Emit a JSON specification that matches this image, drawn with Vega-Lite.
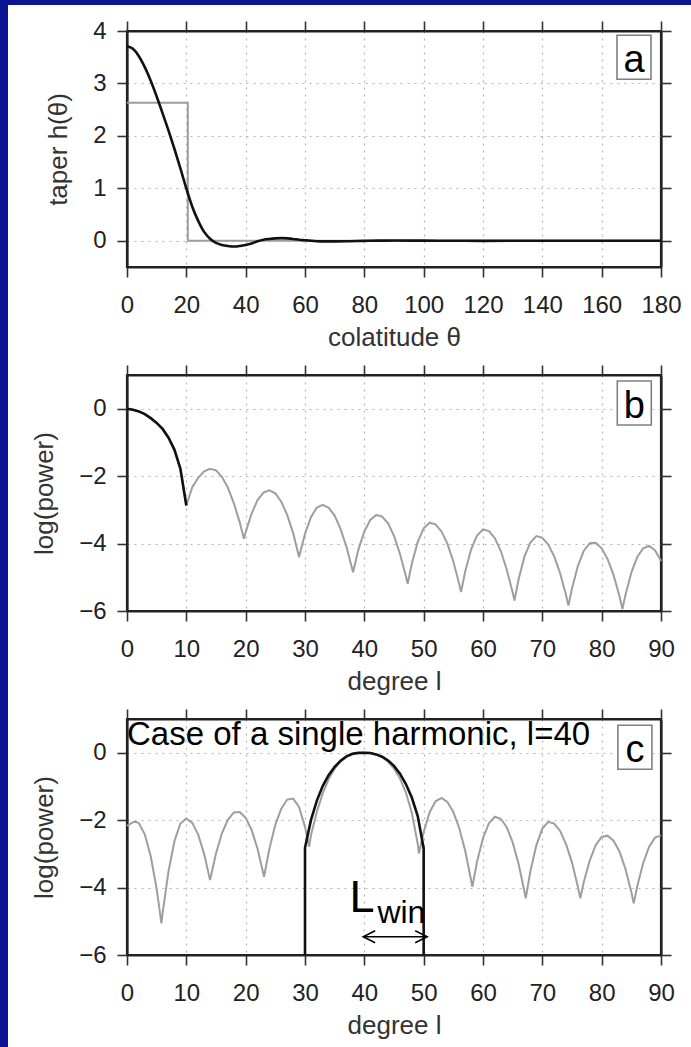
{
  "$schema": "https://vega.github.io/schema/vega-lite/v6.json",
  "padding": 0,
  "background": "white",
  "config": {
    "font": "Liberation Sans",
    "view": {"stroke": "#222222", "strokeWidth": 2.2},
    "axis": {
      "domain": true,
      "domainColor": "#222222",
      "domainWidth": 2.2,
      "tickColor": "#333333",
      "tickWidth": 1.6,
      "tickSize": 10,
      "labelFont": "Liberation Sans",
      "labelFontSize": 24,
      "labelColor": "#222222",
      "labelFlush": false,
      "labelOverlap": false,
      "titleFont": "Liberation Sans",
      "titleFontSize": 26,
      "titleFontWeight": "normal",
      "titleColor": "#333333",
      "gridColor": "#b5b5b5",
      "gridDash": [2, 5],
      "gridWidth": 1.2
    },
    "axisX": {"labelPadding": 16, "titlePadding": 7},
    "axisY": {"labelPadding": 11, "titlePadding": 21}
  },
  "datasets": {
    "taper": [
      {"theta": 0, "h": 3.71}, {"theta": 2, "h": 3.66}, {"theta": 4, "h": 3.52}, {"theta": 6, "h": 3.31},
      {"theta": 8, "h": 3.05}, {"theta": 10, "h": 2.75}, {"theta": 12, "h": 2.43}, {"theta": 14, "h": 2.1},
      {"theta": 16, "h": 1.75}, {"theta": 18, "h": 1.38}, {"theta": 20, "h": 1.0}, {"theta": 22, "h": 0.65},
      {"theta": 24, "h": 0.38}, {"theta": 26, "h": 0.17}, {"theta": 28, "h": 0.04}, {"theta": 30, "h": -0.04},
      {"theta": 32, "h": -0.08}, {"theta": 34, "h": -0.1}, {"theta": 36, "h": -0.11}, {"theta": 38, "h": -0.1},
      {"theta": 40, "h": -0.08}, {"theta": 42, "h": -0.05}, {"theta": 44, "h": -0.01}, {"theta": 46, "h": 0.02},
      {"theta": 48, "h": 0.035}, {"theta": 50, "h": 0.045}, {"theta": 52, "h": 0.05}, {"theta": 54, "h": 0.045},
      {"theta": 56, "h": 0.035}, {"theta": 58, "h": 0.02}, {"theta": 60, "h": 0.01}, {"theta": 62, "h": 0.0},
      {"theta": 64, "h": -0.008}, {"theta": 66, "h": -0.012}, {"theta": 70, "h": -0.012}, {"theta": 75, "h": -0.008},
      {"theta": 80, "h": -0.002}, {"theta": 85, "h": 0.003}, {"theta": 90, "h": 0.004}, {"theta": 100, "h": 0.002},
      {"theta": 110, "h": 0.0}, {"theta": 120, "h": -0.001}, {"theta": 140, "h": 0.0}, {"theta": 160, "h": 0.0},
      {"theta": 180, "h": 0.0}
    ],
    "boxcar": [
      {"i": 1, "theta": 0, "h": 2.63}, {"i": 2, "theta": 20.5, "h": 2.63},
      {"i": 3, "theta": 20.5, "h": 0}, {"i": 4, "theta": 180, "h": 0}
    ],
    "specB": [
      {"l": 0, "logp": 0}, {"l": 1, "logp": -0.03}, {"l": 2, "logp": -0.08}, {"l": 3, "logp": -0.16},
      {"l": 4, "logp": -0.28}, {"l": 5, "logp": -0.42}, {"l": 6, "logp": -0.6}, {"l": 7, "logp": -0.86},
      {"l": 8, "logp": -1.22}, {"l": 9, "logp": -1.78}, {"l": 10, "logp": -2.87}, {"l": 11, "logp": -2.33},
      {"l": 12, "logp": -2.05}, {"l": 13, "logp": -1.86}, {"l": 14, "logp": -1.78}, {"l": 15, "logp": -1.83},
      {"l": 16, "logp": -2.02}, {"l": 17, "logp": -2.34}, {"l": 18, "logp": -2.8}, {"l": 19, "logp": -3.37},
      {"l": 19.7, "logp": -3.86}, {"l": 20, "logp": -3.66}, {"l": 21, "logp": -3.11}, {"l": 22, "logp": -2.71},
      {"l": 23, "logp": -2.49}, {"l": 24, "logp": -2.42}, {"l": 25, "logp": -2.51}, {"l": 26, "logp": -2.76},
      {"l": 27, "logp": -3.15}, {"l": 28, "logp": -3.69}, {"l": 29, "logp": -4.4}, {"l": 30, "logp": -3.71},
      {"l": 31, "logp": -3.22}, {"l": 32, "logp": -2.93}, {"l": 33, "logp": -2.85}, {"l": 34, "logp": -2.94},
      {"l": 35, "logp": -3.17}, {"l": 36, "logp": -3.57}, {"l": 37, "logp": -4.1}, {"l": 38.1, "logp": -4.85},
      {"l": 39, "logp": -4.18}, {"l": 40, "logp": -3.64}, {"l": 41, "logp": -3.3}, {"l": 42, "logp": -3.15},
      {"l": 43, "logp": -3.2}, {"l": 44, "logp": -3.4}, {"l": 45, "logp": -3.77}, {"l": 46, "logp": -4.3},
      {"l": 47, "logp": -4.96}, {"l": 47.3, "logp": -5.19}, {"l": 48, "logp": -4.6}, {"l": 49, "logp": -3.95},
      {"l": 50, "logp": -3.55}, {"l": 51, "logp": -3.38}, {"l": 52, "logp": -3.43}, {"l": 53, "logp": -3.64},
      {"l": 54, "logp": -4.0}, {"l": 55, "logp": -4.53}, {"l": 56, "logp": -5.21}, {"l": 56.3, "logp": -5.44},
      {"l": 57, "logp": -4.83}, {"l": 58, "logp": -4.17}, {"l": 59, "logp": -3.76}, {"l": 60, "logp": -3.58},
      {"l": 61, "logp": -3.63}, {"l": 62, "logp": -3.84}, {"l": 63, "logp": -4.22}, {"l": 64, "logp": -4.77},
      {"l": 65, "logp": -5.45}, {"l": 65.3, "logp": -5.69}, {"l": 66, "logp": -5.06}, {"l": 67, "logp": -4.38},
      {"l": 68, "logp": -3.96}, {"l": 69, "logp": -3.78}, {"l": 70, "logp": -3.83}, {"l": 71, "logp": -4.03},
      {"l": 72, "logp": -4.38}, {"l": 73, "logp": -4.88}, {"l": 74, "logp": -5.53}, {"l": 74.4, "logp": -5.84},
      {"l": 75, "logp": -5.33}, {"l": 76, "logp": -4.66}, {"l": 77, "logp": -4.21}, {"l": 78, "logp": -3.99},
      {"l": 79, "logp": -3.98}, {"l": 80, "logp": -4.14}, {"l": 81, "logp": -4.46}, {"l": 82, "logp": -4.93},
      {"l": 83, "logp": -5.56}, {"l": 83.5, "logp": -5.94}, {"l": 84, "logp": -5.53}, {"l": 85, "logp": -4.86},
      {"l": 86, "logp": -4.4}, {"l": 87, "logp": -4.14}, {"l": 88, "logp": -4.07}, {"l": 89, "logp": -4.2},
      {"l": 90, "logp": -4.52}
    ],
    "specBmain": [
      {"l": 0, "logp": 0}, {"l": 1, "logp": -0.03}, {"l": 2, "logp": -0.08}, {"l": 3, "logp": -0.16},
      {"l": 4, "logp": -0.28}, {"l": 5, "logp": -0.42}, {"l": 6, "logp": -0.6}, {"l": 7, "logp": -0.86},
      {"l": 8, "logp": -1.22}, {"l": 9, "logp": -1.78}, {"l": 10, "logp": -2.87}
    ],
    "specC": [
      {"l": 0, "logp": -2.17}, {"l": 1, "logp": -2.06}, {"l": 1.5, "logp": -2.05}, {"l": 2, "logp": -2.09},
      {"l": 3, "logp": -2.42}, {"l": 4, "logp": -3.07}, {"l": 5, "logp": -4.04}, {"l": 5.8, "logp": -5.06},
      {"l": 6, "logp": -4.76}, {"l": 7, "logp": -3.51}, {"l": 8, "logp": -2.62}, {"l": 9, "logp": -2.1},
      {"l": 10, "logp": -1.95}, {"l": 11, "logp": -2.08}, {"l": 12, "logp": -2.43}, {"l": 13, "logp": -3.0},
      {"l": 14, "logp": -3.78}, {"l": 15, "logp": -2.99}, {"l": 16, "logp": -2.39}, {"l": 17, "logp": -1.99},
      {"l": 18, "logp": -1.77}, {"l": 19, "logp": -1.76}, {"l": 20, "logp": -1.93}, {"l": 21, "logp": -2.29},
      {"l": 22, "logp": -2.85}, {"l": 23.1, "logp": -3.68}, {"l": 24, "logp": -2.85}, {"l": 25, "logp": -2.14},
      {"l": 26, "logp": -1.66}, {"l": 27, "logp": -1.39}, {"l": 28, "logp": -1.36}, {"l": 29, "logp": -1.61},
      {"l": 30, "logp": -2.2}, {"l": 30.7, "logp": -2.79}, {"l": 31, "logp": -2.45}, {"l": 32, "logp": -1.75},
      {"l": 33, "logp": -1.2}, {"l": 34, "logp": -0.78}, {"l": 35, "logp": -0.47}, {"l": 36, "logp": -0.26},
      {"l": 37, "logp": -0.12}, {"l": 38, "logp": -0.04}, {"l": 39, "logp": -0.01}, {"l": 40, "logp": 0},
      {"l": 41, "logp": -0.01}, {"l": 42, "logp": -0.05}, {"l": 43, "logp": -0.13}, {"l": 44, "logp": -0.27},
      {"l": 45, "logp": -0.47}, {"l": 46, "logp": -0.76}, {"l": 47, "logp": -1.18}, {"l": 48, "logp": -1.78},
      {"l": 49, "logp": -2.7}, {"l": 49.2, "logp": -2.99}, {"l": 50, "logp": -2.35}, {"l": 51, "logp": -1.77},
      {"l": 52, "logp": -1.44}, {"l": 53, "logp": -1.34}, {"l": 54, "logp": -1.46}, {"l": 55, "logp": -1.76},
      {"l": 56, "logp": -2.24}, {"l": 57, "logp": -2.91}, {"l": 58, "logp": -3.79}, {"l": 58.2, "logp": -3.98},
      {"l": 59, "logp": -3.23}, {"l": 60, "logp": -2.53}, {"l": 61, "logp": -2.09}, {"l": 62, "logp": -1.9},
      {"l": 63, "logp": -1.96}, {"l": 64, "logp": -2.21}, {"l": 65, "logp": -2.66}, {"l": 66, "logp": -3.3},
      {"l": 67, "logp": -4.13}, {"l": 67.2, "logp": -4.32}, {"l": 68, "logp": -3.5}, {"l": 69, "logp": -2.74},
      {"l": 70, "logp": -2.25}, {"l": 71, "logp": -2.05}, {"l": 72, "logp": -2.1}, {"l": 73, "logp": -2.32},
      {"l": 74, "logp": -2.71}, {"l": 75, "logp": -3.26}, {"l": 76, "logp": -3.98}, {"l": 76.4, "logp": -4.32},
      {"l": 77, "logp": -3.83}, {"l": 78, "logp": -3.19}, {"l": 79, "logp": -2.74}, {"l": 80, "logp": -2.5},
      {"l": 81, "logp": -2.46}, {"l": 82, "logp": -2.61}, {"l": 83, "logp": -2.93}, {"l": 84, "logp": -3.44},
      {"l": 85, "logp": -4.13}, {"l": 85.4, "logp": -4.47}, {"l": 86, "logp": -3.96}, {"l": 87, "logp": -3.27},
      {"l": 88, "logp": -2.79}, {"l": 89, "logp": -2.52}, {"l": 90, "logp": -2.45}
    ],
    "specCblack": [
      {"i": 1, "l": 30, "logp": -6}, {"i": 2, "l": 30, "logp": -2.82}, {"i": 3, "l": 31, "logp": -2.0},
      {"i": 4, "l": 32, "logp": -1.42}, {"i": 5, "l": 33, "logp": -0.98}, {"i": 6, "l": 34, "logp": -0.66},
      {"i": 7, "l": 35, "logp": -0.42}, {"i": 8, "l": 36, "logp": -0.24}, {"i": 9, "l": 37, "logp": -0.11},
      {"i": 10, "l": 38, "logp": -0.03}, {"i": 11, "l": 39, "logp": -0.005}, {"i": 12, "l": 40, "logp": 0},
      {"i": 13, "l": 41, "logp": -0.01}, {"i": 14, "l": 42, "logp": -0.05}, {"i": 15, "l": 43, "logp": -0.12},
      {"i": 16, "l": 44, "logp": -0.23}, {"i": 17, "l": 45, "logp": -0.39}, {"i": 18, "l": 46, "logp": -0.62},
      {"i": 19, "l": 47, "logp": -0.93}, {"i": 20, "l": 48, "logp": -1.33}, {"i": 21, "l": 49, "logp": -1.88},
      {"i": 22, "l": 50, "logp": -2.84}, {"i": 23, "l": 50, "logp": -6}
    ]
  },
  "spacing": 0,
  "vconcat": [
    {
      "width": 691, "height": 5,
      "view": {"fill": "#0b1592", "stroke": null},
      "data": {"values": []},
      "mark": "rect",
      "encoding": {}
    },
    {
      "spacing": 22,
      "hconcat": [
        {
          "width": 8, "height": 1042,
          "view": {"fill": "#0b1592", "stroke": null},
          "data": {"values": []},
          "mark": "rect",
          "encoding": {}
        },
        {
          "spacing": 0,
          "vconcat": [
            {
              "width": 1, "height": 12,
              "view": {"stroke": null},
              "data": {"values": []},
              "mark": "rect",
              "encoding": {}
            },
            {
              "spacing": 108,
              "bounds": "flush",
              "vconcat": [
                {
                  "width": 534, "height": 236,
                  "resolve": {"axis": {"x": "independent", "y": "independent"}},
                  "layer": [
                    {
                      "data": {"name": "boxcar"},
                      "mark": {"type": "line", "color": "#9e9e9e", "strokeWidth": 2},
                      "encoding": {
                        "x": {"field": "theta", "type": "quantitative", "scale": {"domain": [0, 180], "nice": false},
                              "axis": {"orient": "bottom", "values": [0, 20, 40, 60, 80, 100, 120, 140, 160, 180], "title": "colatitude θ", "grid": true}},
                        "y": {"field": "h", "type": "quantitative", "scale": {"domain": [-0.5, 4], "nice": false},
                              "axis": {"orient": "left", "values": [0, 1, 2, 3, 4], "title": "taper h(θ)", "grid": true}},
                        "order": {"field": "i"}
                      }
                    },
                    {
                      "data": {"name": "taper"},
                      "mark": {"type": "line", "color": "#111111", "strokeWidth": 2.6, "interpolate": "monotone"},
                      "encoding": {
                        "x": {"field": "theta", "type": "quantitative", "scale": {"domain": [0, 180], "nice": false},
                              "axis": {"orient": "top", "values": [0, 20, 40, 60, 80, 100, 120, 140, 160, 180], "labels": false, "title": null, "grid": false}},
                        "y": {"field": "h", "type": "quantitative", "scale": {"domain": [-0.5, 4], "nice": false},
                              "axis": {"orient": "right", "values": [0, 1, 2, 3, 4], "labels": false, "title": null, "grid": false}}
                      }
                    },
                    {
                      "data": {"values": [{"theta": 170.9, "h": 3.5, "label": "a"}]},
                      "mark": {"type": "point", "shape": "M-0.773,-1H0.773V1H-0.773Z", "size": 1936, "filled": true, "fill": "white", "stroke": "#808080", "strokeWidth": 1.6, "opacity": 1},
                      "encoding": {
                        "x": {"field": "theta", "type": "quantitative", "scale": {"domain": [0, 180], "nice": false}, "axis": null},
                        "y": {"field": "h", "type": "quantitative", "scale": {"domain": [-0.5, 4], "nice": false}, "axis": null}
                      }
                    },
                    {
                      "data": {"values": [{"theta": 170.9, "h": 3.5, "label": "a"}]},
                      "mark": {"type": "text", "fontSize": 38, "baseline": "alphabetic", "dy": 15, "align": "center", "color": "black", "font": "Liberation Sans"},
                      "encoding": {
                        "x": {"field": "theta", "type": "quantitative", "scale": {"domain": [0, 180], "nice": false}, "axis": null},
                        "y": {"field": "h", "type": "quantitative", "scale": {"domain": [-0.5, 4], "nice": false}, "axis": null},
                        "text": {"field": "label"}
                      }
                    }
                  ]
                },
                {
                  "width": 534, "height": 236,
                  "resolve": {"axis": {"x": "independent", "y": "independent"}},
                  "layer": [
                    {
                      "data": {"name": "specB"},
                      "mark": {"type": "line", "color": "#9e9e9e", "strokeWidth": 2},
                      "encoding": {
                        "x": {"field": "l", "type": "quantitative", "scale": {"domain": [0, 90], "nice": false},
                              "axis": {"orient": "bottom", "values": [0, 10, 20, 30, 40, 50, 60, 70, 80, 90], "title": "degree l", "grid": true}},
                        "y": {"field": "logp", "type": "quantitative", "scale": {"domain": [-6, 1], "nice": false},
                              "axis": {"orient": "left", "values": [-6, -4, -2, 0], "title": "log(power)", "grid": true}}
                      }
                    },
                    {
                      "data": {"name": "specBmain"},
                      "mark": {"type": "line", "color": "#111111", "strokeWidth": 2.6},
                      "encoding": {
                        "x": {"field": "l", "type": "quantitative", "scale": {"domain": [0, 90], "nice": false},
                              "axis": {"orient": "top", "values": [0, 10, 20, 30, 40, 50, 60, 70, 80, 90], "labels": false, "title": null, "grid": false}},
                        "y": {"field": "logp", "type": "quantitative", "scale": {"domain": [-6, 1], "nice": false},
                              "axis": {"orient": "right", "values": [-6, -4, -2, 0], "labels": false, "title": null, "grid": false}}
                      }
                    },
                    {
                      "data": {"values": [{"l": 85.5, "logp": 0.17, "label": "b"}]},
                      "mark": {"type": "point", "shape": "M-0.773,-1H0.773V1H-0.773Z", "size": 1936, "filled": true, "fill": "white", "stroke": "#808080", "strokeWidth": 1.6, "opacity": 1},
                      "encoding": {
                        "x": {"field": "l", "type": "quantitative", "scale": {"domain": [0, 90], "nice": false}, "axis": null},
                        "y": {"field": "logp", "type": "quantitative", "scale": {"domain": [-6, 1], "nice": false}, "axis": null}
                      }
                    },
                    {
                      "data": {"values": [{"l": 85.5, "logp": 0.17, "label": "b"}]},
                      "mark": {"type": "text", "fontSize": 38, "baseline": "alphabetic", "dy": 15, "align": "center", "color": "black", "font": "Liberation Sans"},
                      "encoding": {
                        "x": {"field": "l", "type": "quantitative", "scale": {"domain": [0, 90], "nice": false}, "axis": null},
                        "y": {"field": "logp", "type": "quantitative", "scale": {"domain": [-6, 1], "nice": false}, "axis": null},
                        "text": {"field": "label"}
                      }
                    }
                  ]
                },
                {
                  "width": 534, "height": 236,
                  "resolve": {"axis": {"x": "independent", "y": "independent"}},
                  "layer": [
                    {
                      "data": {"name": "specC"},
                      "mark": {"type": "line", "color": "#9e9e9e", "strokeWidth": 2},
                      "encoding": {
                        "x": {"field": "l", "type": "quantitative", "scale": {"domain": [0, 90], "nice": false},
                              "axis": {"orient": "bottom", "values": [0, 10, 20, 30, 40, 50, 60, 70, 80, 90], "title": "degree l", "grid": true}},
                        "y": {"field": "logp", "type": "quantitative", "scale": {"domain": [-6, 1], "nice": false},
                              "axis": {"orient": "left", "values": [-6, -4, -2, 0], "title": "log(power)", "grid": true}}
                      }
                    },
                    {
                      "data": {"name": "specCblack"},
                      "mark": {"type": "line", "color": "#111111", "strokeWidth": 2.6},
                      "encoding": {
                        "x": {"field": "l", "type": "quantitative", "scale": {"domain": [0, 90], "nice": false},
                              "axis": {"orient": "top", "values": [0, 10, 20, 30, 40, 50, 60, 70, 80, 90], "labels": false, "title": null, "grid": false}},
                        "y": {"field": "logp", "type": "quantitative", "scale": {"domain": [-6, 1], "nice": false},
                              "axis": {"orient": "right", "values": [-6, -4, -2, 0], "labels": false, "title": null, "grid": false}},
                        "order": {"field": "i"}
                      }
                    },
                    {
                      "data": {"values": [{"l": 85.6, "logp": 0.16, "label": "c"}]},
                      "mark": {"type": "point", "shape": "M-0.773,-1H0.773V1H-0.773Z", "size": 1936, "filled": true, "fill": "white", "stroke": "#808080", "strokeWidth": 1.6, "opacity": 1},
                      "encoding": {
                        "x": {"field": "l", "type": "quantitative", "scale": {"domain": [0, 90], "nice": false}, "axis": null},
                        "y": {"field": "logp", "type": "quantitative", "scale": {"domain": [-6, 1], "nice": false}, "axis": null}
                      }
                    },
                    {
                      "data": {"values": [{"l": 85.6, "logp": 0.16, "label": "c"}]},
                      "mark": {"type": "text", "fontSize": 38, "baseline": "alphabetic", "dy": 15, "align": "center", "color": "black", "font": "Liberation Sans"},
                      "encoding": {
                        "x": {"field": "l", "type": "quantitative", "scale": {"domain": [0, 90], "nice": false}, "axis": null},
                        "y": {"field": "logp", "type": "quantitative", "scale": {"domain": [-6, 1], "nice": false}, "axis": null},
                        "text": {"field": "label"}
                      }
                    },
                    {
                      "data": {"values": [{"l": 0, "logp": 1, "label": "Case of a single harmonic, l=40"}]},
                      "mark": {"type": "text", "fontSize": 33, "baseline": "top", "align": "left", "color": "black", "font": "Liberation Sans"},
                      "encoding": {
                        "x": {"field": "l", "type": "quantitative", "scale": {"domain": [0, 90], "nice": false}, "axis": null},
                        "y": {"field": "logp", "type": "quantitative", "scale": {"domain": [-6, 1], "nice": false}, "axis": null},
                        "text": {"field": "label"}
                      }
                    },
                    {
                      "data": {"values": [{"l": 37.5, "logp": -4.72, "label": "L"}]},
                      "mark": {"type": "text", "fontSize": 45, "baseline": "alphabetic", "align": "left", "color": "black", "font": "Liberation Sans"},
                      "encoding": {
                        "x": {"field": "l", "type": "quantitative", "scale": {"domain": [0, 90], "nice": false}, "axis": null},
                        "y": {"field": "logp", "type": "quantitative", "scale": {"domain": [-6, 1], "nice": false}, "axis": null},
                        "text": {"field": "label"}
                      }
                    },
                    {
                      "data": {"values": [{"l": 42.2, "logp": -5.06, "label": "win"}]},
                      "mark": {"type": "text", "fontSize": 32, "baseline": "alphabetic", "align": "left", "color": "black", "font": "Liberation Sans"},
                      "encoding": {
                        "x": {"field": "l", "type": "quantitative", "scale": {"domain": [0, 90], "nice": false}, "axis": null},
                        "y": {"field": "logp", "type": "quantitative", "scale": {"domain": [-6, 1], "nice": false}, "axis": null},
                        "text": {"field": "label"}
                      }
                    },
                    {
                      "data": {"values": [{"l1": 39.8, "l2": 50.6, "logp": -5.46}]},
                      "mark": {"type": "rule", "color": "black", "strokeWidth": 1.5},
                      "encoding": {
                        "x": {"field": "l1", "type": "quantitative", "scale": {"domain": [0, 90], "nice": false}, "axis": null},
                        "x2": {"field": "l2"},
                        "y": {"field": "logp", "type": "quantitative", "scale": {"domain": [-6, 1], "nice": false}, "axis": null}
                      }
                    },
                    {
                      "data": {"values": [{"l": 39.8, "logp": -5.46}]},
                      "mark": {"type": "point", "shape": "M2,-1L0,0L2,1", "size": 144, "filled": false, "stroke": "black", "strokeWidth": 1.5, "opacity": 1},
                      "encoding": {
                        "x": {"field": "l", "type": "quantitative", "scale": {"domain": [0, 90], "nice": false}, "axis": null},
                        "y": {"field": "logp", "type": "quantitative", "scale": {"domain": [-6, 1], "nice": false}, "axis": null}
                      }
                    },
                    {
                      "data": {"values": [{"l": 50.6, "logp": -5.46}]},
                      "mark": {"type": "point", "shape": "M-2,-1L0,0L-2,1", "size": 144, "filled": false, "stroke": "black", "strokeWidth": 1.5, "opacity": 1},
                      "encoding": {
                        "x": {"field": "l", "type": "quantitative", "scale": {"domain": [0, 90], "nice": false}, "axis": null},
                        "y": {"field": "logp", "type": "quantitative", "scale": {"domain": [-6, 1], "nice": false}, "axis": null}
                      }
                    }
                  ]
                }
              ]
            }
          ]
        }
      ]
    }
  ]
}
